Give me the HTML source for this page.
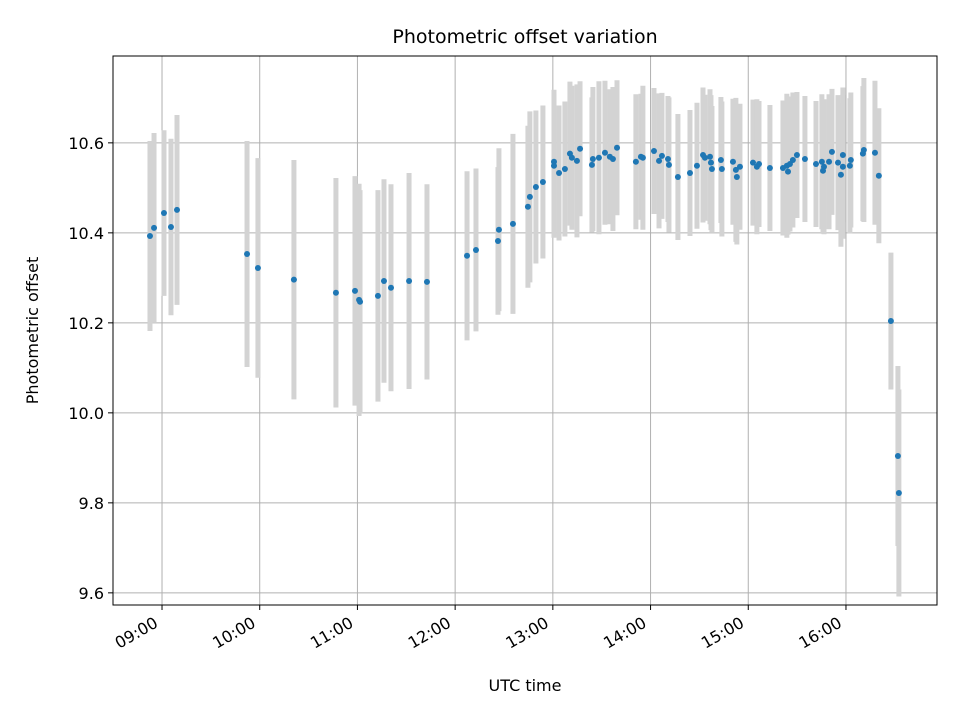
<!DOCTYPE html>
<html><head><meta charset="utf-8"><style>
body{margin:0;background:#fff}
svg text{font-family:"DejaVu Sans","Liberation Sans",sans-serif;fill:#000}
</style></head><body>
<svg id="chart" width="960" height="720" xmlns="http://www.w3.org/2000/svg">
<rect width="960" height="720" fill="#fff"/>
<g id="grid"></g><g id="bars"></g><g id="dots"></g><g id="axes"></g>
</svg>
<script>
const timesMin=[532.6,535.1,541.2,545.5,549.2,592.2,598.9,621,646.8,658.5,661,661.6,672.6,676.3,680.6,691.7,702.7,727.3,732.8,746.3,746.9,755.5,764.7,765.9,769.6,773.9,780.7,780.7,783.8,787.4,790.5,791.7,794.8,796.7,804,804.6,808.3,812,815,816.9,819.4,831,834.1,835.3,842.1,845.2,847,850.7,851.3,856.8,864.2,868.5,872.2,873.4,876.5,877.1,877.7,883.2,883.8,890.6,892.4,893,894.9,902.9,905.3,906.6,913.3,921.3,923.7,924.4,925.6,927.4,929.9,934.8,941.6,945.2,945.9,946.5,949.6,951.4,955.1,956.9,958.1,958.1,962.4,963,970.4,971,977.8,980.2,987.6,991.9,992.5];
const offsets=[10.393,10.411,10.444,10.413,10.451,10.353,10.322,10.296,10.267,10.271,10.251,10.247,10.260,10.293,10.278,10.293,10.291,10.349,10.362,10.382,10.407,10.420,10.458,10.480,10.502,10.513,10.558,10.549,10.533,10.542,10.576,10.567,10.560,10.587,10.551,10.564,10.567,10.578,10.569,10.564,10.589,10.558,10.569,10.567,10.582,10.560,10.571,10.564,10.551,10.524,10.533,10.549,10.573,10.567,10.569,10.556,10.542,10.562,10.542,10.558,10.540,10.524,10.547,10.556,10.547,10.553,10.544,10.544,10.549,10.536,10.553,10.562,10.573,10.564,10.553,10.558,10.538,10.547,10.558,10.580,10.556,10.529,10.573,10.547,10.549,10.562,10.576,10.584,10.578,10.527,10.204,9.904,9.822];
const errors=[0.211,0.211,0.184,0.196,0.211,0.251,0.244,0.266,0.255,0.255,0.258,0.248,0.235,0.226,0.230,0.240,0.217,0.188,0.181,0.164,0.181,0.200,0.18,0.19,0.17,0.17,0.16,0.16,0.15,0.15,0.16,0.16,0.17,0.15,0.15,0.16,0.17,0.16,0.15,0.16,0.15,0.15,0.14,0.16,0.14,0.15,0.14,0.14,0.15,0.14,0.14,0.14,0.15,0.14,0.15,0.15,0.14,0.14,0.15,0.14,0.16,0.15,0.14,0.14,0.15,0.14,0.14,0.15,0.16,0.14,0.15,0.15,0.14,0.14,0.14,0.15,0.14,0.15,0.15,0.14,0.15,0.16,0.15,0.16,0.15,0.15,0.15,0.16,0.16,0.15,0.152,0.2,0.23];
const xTickMin=[540,600,660,720,780,840,900,960];
const xTickLabels=["09:00","10:00","11:00","12:00","13:00","14:00","15:00","16:00"];
const yTicks=[9.6,9.8,10.0,10.2,10.4,10.6];
const yTickLabels=["9.6","9.8","10.0","10.2","10.4","10.6"];

const L=113,R=937,T=56,B=605;
const xMin=509.9,xMax=1015.9,yMin=9.573,yMax=10.793;
const sx=m=>L+(m-xMin)/(xMax-xMin)*(R-L);
const sy=v=>B-(v-yMin)/(yMax-yMin)*(B-T);
const NS="http://www.w3.org/2000/svg";
function mk(tag,attrs,parent){const e=document.createElementNS(NS,tag);for(const k in attrs)e.setAttribute(k,attrs[k]);document.getElementById(parent).appendChild(e);return e;}

xTickMin.forEach((m,i)=>{
  const x=sx(m);
  const g=mk('line',{x1:x,x2:x,y1:T,y2:B,stroke:'#b0b0b0','stroke-width':1},'grid');
  
  
  const t=mk('line',{x1:x,x2:x,y1:B,y2:B+5,stroke:'#000','stroke-width':1},'axes');
  
  
  const ax=x-3, ay=B+21;
  const tx=mk('text',{x:ax,y:ay,'font-size':16,'text-anchor':'end',transform:`rotate(-30 ${ax} ${ay})`},'axes');
  tx.textContent=xTickLabels[i];
  
  
});
yTicks.forEach((v,i)=>{
  const y=sy(v);
  const g=mk('line',{x1:L,x2:R,y1:y,y2:y,stroke:'#b0b0b0','stroke-width':1},'grid');
  
  
  const t=mk('line',{x1:L-5,x2:L,y1:y,y2:y,stroke:'#000','stroke-width':1},'axes');
  
  
  const tx=mk('text',{x:L-9,y:y+6,'font-size':16,'text-anchor':'end'},'axes');
  tx.textContent=yTickLabels[i];
  
  
});
timesMin.forEach((m,i)=>{
  const x=sx(m);
  const b=mk('line',{x1:x,x2:x,y1:sy(offsets[i]+errors[i]),y2:sy(offsets[i]-errors[i]),stroke:'#d3d3d3','stroke-width':5},'bars');
  
  
  const c=mk('circle',{cx:x,cy:sy(offsets[i]),r:3,fill:'#1f77b4'},'dots');
  
  
});
const fr=mk('rect',{x:L,y:T,width:R-L,height:B-T,fill:'none',stroke:'#000','stroke-width':1},'axes');


const ti=mk('text',{x:(L+R)/2,y:43,'font-size':19,'text-anchor':'middle'},'axes');
ti.textContent='Photometric offset variation';


const xl=mk('text',{x:(L+R)/2,y:691,'font-size':16,'text-anchor':'middle'},'axes');
xl.textContent='UTC time';


const yl=mk('text',{x:38,y:(T+B)/2,'font-size':16,'text-anchor':'middle',transform:`rotate(-90 38 ${(T+B)/2})`},'axes');
yl.textContent='Photometric offset';


</script>
</body></html>
